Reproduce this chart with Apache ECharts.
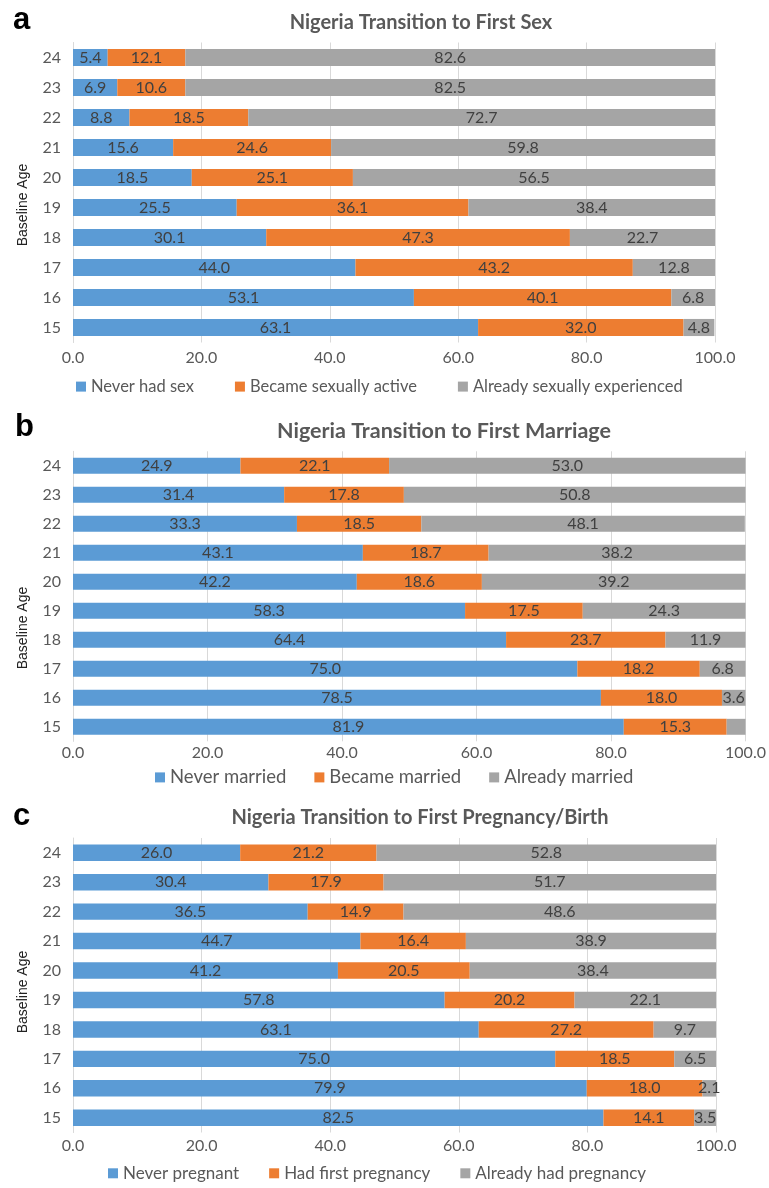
<!DOCTYPE html>
<html>
<head>
<meta charset="utf-8">
<script src="https://cdn.jsdelivr.net/npm/echarts@6/dist/echarts.min.js"></script>
<style>
html,body{margin:0;padding:0;background:#fff;}
#chart{width:769px;height:1188px;}
</style>
</head>
<body>
<div id="chart"></div>
<script>
// ---- data ----
const ages = ['15','16','17','18','19','20','21','22','23','24'];

const titleSex = 'Nigeria Transition to First Sex';
const sexNames = ['Never had sex','Became sexually active','Already sexually experienced'];
const sexNever   = [63.1, 53.1, 44.0, 30.1, 25.5, 18.5, 15.6, 8.8, 6.9, 5.4];
const sexBecame  = [32.0, 40.1, 43.2, 47.3, 36.1, 25.1, 24.6, 18.5, 10.6, 12.1];
const sexAlready = [4.8, 6.8, 12.8, 22.7, 38.4, 56.5, 59.8, 72.7, 82.5, 82.6];

const titleMar = 'Nigeria Transition to First Marriage';
const marNames = ['Never married','Became married','Already married'];
const marNever   = [81.9, 78.5, 75.0, 64.4, 58.3, 42.2, 43.1, 33.3, 31.4, 24.9];
const marBecame  = [15.3, 18.0, 18.2, 23.7, 17.5, 18.6, 18.7, 18.5, 17.8, 22.1];
const marAlready = [2.8, 3.6, 6.8, 11.9, 24.3, 39.2, 38.2, 48.1, 50.8, 53.0];
const marHiddenLabels = ['15']; // the age-15 "already married" value is not labelled

const titlePreg = 'Nigeria Transition to First Pregnancy/Birth';
const pregNames = ['Never pregnant','Had first pregnancy','Already had pregnancy'];
const pregNever   = [82.5, 79.9, 75.0, 63.1, 57.8, 41.2, 44.7, 36.5, 30.4, 26.0];
const pregBecame  = [14.1, 18.0, 18.5, 27.2, 20.2, 20.5, 16.4, 14.9, 17.9, 21.2];
const pregAlready = [3.5, 2.1, 6.5, 9.7, 22.1, 38.4, 38.9, 48.6, 51.7, 52.8];

const yAxisName = 'Baseline Age';
const panelLetters = ['a','b','c'];

// ---- style ----
const colors = ['#5B9BD5', '#ED7D31', '#A5A5A5'];
const FONT = 'Lato, sans-serif';
const labelColor = '#404040';
const tickColor = '#595959';

const grids = [
  {left: 73, top: 42.5, width: 642, height: 300},
  {left: 73, top: 451.3, width: 672.5, height: 290},
  {left: 73, top: 838, width: 643, height: 294.5}
];
const barWidths = ['57%', '55%', '56%'];
const xLabelMargins = [7, 4, 5];

const panels = [
  {title: titleSex, names: sexNames, data: [sexNever, sexBecame, sexAlready], hidden: [[],[],[]]},
  {title: titleMar, names: marNames, data: [marNever, marBecame, marAlready], hidden: [[],[],marHiddenLabels]},
  {title: titlePreg, names: pregNames, data: [pregNever, pregBecame, pregAlready], hidden: [[],[],[]]}
];

const xAxes = grids.map((g, i) => ({
  type: 'value', gridIndex: i, min: 0, max: 100, interval: 20,
  axisLine: {show: false}, axisTick: {show: false},
  splitLine: {show: true, lineStyle: {color: '#D9D9D9', width: 1}},
  axisLabel: {color: tickColor, fontFamily: FONT, fontSize: 16, margin: xLabelMargins[i],
    formatter: v => v.toFixed(1)}
}));
const yAxes = grids.map((g, i) => ({
  type: 'category', gridIndex: i, data: ages,
  axisLine: {show: true, lineStyle: {color: '#D9D9D9', width: 1}},
  axisTick: {show: false},
  axisLabel: {color: tickColor, fontFamily: FONT, fontSize: 16, margin: 12}
}));

const series = [];
panels.forEach((p, pi) => {
  p.names.forEach((name, si) => {
    series.push({
      type: 'bar', name: name, xAxisIndex: pi, yAxisIndex: pi, stack: 'p' + pi,
      barWidth: barWidths[pi],
      itemStyle: {color: colors[si]},
      label: {show: true, position: 'inside', color: labelColor, fontFamily: FONT, fontSize: 16,
        formatter: prm => prm.value.toFixed(1)},
      emphasis: {disabled: true},
      data: p.data[si].map((v, k) => p.hidden[si].indexOf(ages[k]) >= 0 ? {value: v, label: {show: false}} : v)
    });
  });
});

const titleCenters = [[421, 25], [444, 433], [420, 820]];
const titleSizes = [20, 21.5, 20];
const titles = panels.map((p, i) => ({
  text: p.title, left: titleCenters[i][0], top: titleCenters[i][1] - titleSizes[i] * 0.6, textAlign: 'center', padding: 0,
  textStyle: {color: tickColor, fontFamily: FONT, fontSize: titleSizes[i], fontWeight: 'bold'}
}));

const legendPos = [[76, 388, 41, 16.5], [155, 779, 28, 18.5], [108, 1175, 30, 17]];
const legends = panels.map((p, i) => ({
  data: p.names, left: legendPos[i][0], top: legendPos[i][1] - legendPos[i][3] * 0.6, itemGap: legendPos[i][2],
  icon: 'rect', itemWidth: 10, itemHeight: 10, selectedMode: false, padding: 0,
  textStyle: {color: tickColor, fontFamily: FONT, fontSize: legendPos[i][3]}
}));

const letterPos = [[13, 20], [15, 427], [13, 816]];
const axisNamePos = [[23, 205], [23, 628], [23, 992]];
const graphics = [];
panelLetters.forEach((t, i) => {
  graphics.push({type: 'text', x: letterPos[i][0], y: letterPos[i][1],
    style: {text: t, fill: '#000', font: 'bold 31px "Liberation Sans", Arial, sans-serif',
      textAlign: 'left', textVerticalAlign: 'middle'}});
  graphics.push({type: 'text', x: axisNamePos[i][0], y: axisNamePos[i][1], rotation: Math.PI / 2,
    style: {text: yAxisName, fill: '#222', font: '14px "Liberation Sans", Arial, sans-serif',
      textAlign: 'center', textVerticalAlign: 'middle'}});
});

const chart = echarts.init(document.getElementById('chart'), null, {renderer: 'canvas'});
chart.setOption({
  animation: false,
  backgroundColor: '#fff',
  title: titles,
  legend: legends,
  grid: grids,
  xAxis: xAxes,
  yAxis: yAxes,
  series: series,
  graphic: graphics
});
</script>
</body>
</html>
